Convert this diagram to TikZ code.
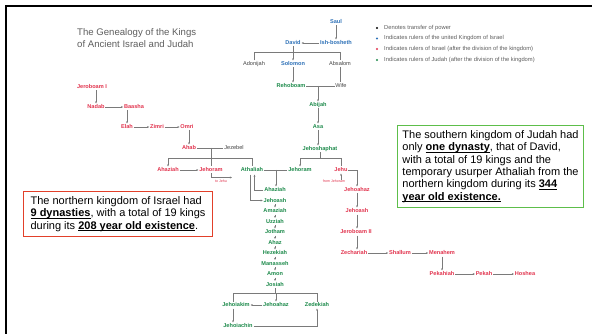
\documentclass[tikz,border=0pt]{standalone}
\usepackage{fontspec}
\setmainfont{Liberation Sans}
\usetikzlibrary{arrows.meta}
\definecolor{ired}{HTML}{E2354F}
\definecolor{jgreen}{HTML}{1E8B4C}
\definecolor{ublue}{HTML}{2F72B8}
\definecolor{lgray}{HTML}{7A7A7A}
\definecolor{tgray}{HTML}{5E5E5E}
\definecolor{ngray}{HTML}{444444}
\definecolor{rbox}{HTML}{E2402A}
\definecolor{gbox}{HTML}{5DBE4A}
\newcommand\myul[1]{\setbox0\hbox{#1}\rlap{\rule[-1.4pt]{\wd0}{0.65pt}}\box0}
\begin{document}
\begin{tikzpicture}[x=1pt,y=-1pt,
  nm/.style={font=\fontsize{5.6}{6}\selectfont\bfseries, inner sep=0.7pt, text height=4.1pt, text depth=1.1pt},
  isr/.style={nm, text=ired},
  jud/.style={nm, text=jgreen},
  uni/.style={nm, text=ublue},
  oth/.style={nm, text=ngray, font=\fontsize{5.6}{6}\selectfont},
  tiny/.style={font=\fontsize{3.6}{4}\selectfont, text=ired, inner sep=0.3pt},
  ln/.style={draw=lgray, line width=0.45pt},
  ar/.style={ln, -{Stealth[length=2.2pt,width=1.9pt]}},
  legt/.style={font=\fontsize{5.8}{6}\selectfont, text=tgray, anchor=west, inner sep=0pt},
  dotb/.style={circle, inner sep=0pt, minimum size=2.2pt},
  titl/.style={font=\fontsize{9.6}{12}\selectfont, text=tgray, anchor=base west, inner sep=0pt},
  infobox/.style={line width=1.1pt, align=left, font=\fontsize{11}{12.4}\selectfont, anchor=north west, inner sep=0pt}
]
\useasboundingbox (0,0) rectangle (592,334);
\fill[white] (0,0) rectangle (592,334);
\draw[line width=2.2pt] (6,334) -- (6,5.8) -- (592,5.8);

% title
\node[titl] (t1) at (77,36) {The Genealogy of the Kings};
\node[titl] (t2) at (77,48) {of Ancient Israel and Judah};

% legend
\node[dotb, fill=black] (b1) at (377,28) {};
\node[dotb, fill=ublue] (b2) at (377,38.5) {};
\node[dotb, fill=ired] (b3) at (377,49) {};
\node[dotb, fill=jgreen] (b4) at (377,60) {};
\node[legt] (l1) at (384,28) {Denotes transfer of power};
\node[legt] (l2) at (384,38.5) {Indicates rulers of the united Kingdom of Israel};
\node[legt] (l3) at (384,49) {Indicates rulers of Israel (after the division of the kingdom)};
\node[legt] (l4) at (384,60) {Indicates rulers of Judah (after the division of the kingdom)};

% united kingdom
\node[uni] (Saul) at (336,22) {Saul};
\node[uni] (Ishb) at (336,43) {Ish-bosheth};
\node[uni] (David) at (293,43) {David};
\node[oth] (Adonijah) at (254,64) {Adonijah};
\node[uni] (Solomon) at (293,64) {Solomon};
\node[oth] (Absalom) at (340,64) {Absalom};
\node[jud] (Rehoboam) at (291,86) {Rehoboam};
\node[oth] (Wife) at (341,86) {Wife};

\draw[ar] (Saul) -- (Ishb);
\draw[ar] (Ishb) -- (David);
\coordinate (dbar) at (293,52.5);
\draw[ln] (David.south) -- (dbar);
\draw[ln] (Adonijah.north) |- (dbar) -| (Absalom.north);
\draw[ar] (dbar) -- (Solomon.north);
\draw[ar] (Solomon.south) -- (Solomon.south |- Rehoboam.north);
\draw[ln] (Rehoboam.east) -- (Wife.west);
\draw[ln] (Absalom.south) -- (Absalom.south |- Wife.north);

% Judah
\node[jud] (Abijah) at (318,105) {Abijah};
\node[jud] (Asa) at (318,127) {Asa};
\node[jud] (Jehoshaphat) at (320,149) {Jehoshaphat};
\node[jud] (JehoramJ) at (300,170) {Jehoram};
\node[isr] (Jehu) at (341,170) {Jehu};
\node[jud] (Athaliah) at (252,170) {Athaliah};
\coordinate (rwm) at (318,86);
\draw[ar] (rwm) -- (Abijah.north);
\draw[ar] (Abijah) -- (Asa);
\draw[ar] (Asa.south) -- (Asa.south |- Jehoshaphat.north);
\coordinate (jsbar) at (320,158);
\draw[ln] (Jehoshaphat.south) -- (jsbar);
\draw[ar] (jsbar) -| (JehoramJ.north);
\draw[ln] (jsbar) -| (Jehu.north);

\node[jud] (AhaziahJ) at (275,190) {Ahaziah};
\node[jud] (Jehoash) at (275,200.5) {Jehoash};
\node[jud] (Amaziah) at (275,211) {Amaziah};
\node[jud] (Uzziah) at (275,221.5) {Uzziah};
\node[jud] (Jotham) at (275,232) {Jotham};
\node[jud] (Ahaz) at (275,242.5) {Ahaz};
\node[jud] (Hezekiah) at (275,253) {Hezekiah};
\node[jud] (Manasseh) at (275,263.5) {Manasseh};
\node[jud] (Amon) at (275,274) {Amon};
\node[jud] (Josiah) at (275,284.5) {Josiah};
\draw[ln] (Athaliah.east) -- (JehoramJ.west);
\coordinate (atm) at (276,170);
\draw[ar] (atm) -- (AhaziahJ.north -| atm);
\coordinate (athA) at (254.5,174.6);
\coordinate (athB) at (250.5,174.6);
\draw[ar] (AhaziahJ.west) -| (athA);
\draw[ar] (athB) |- (Jehoash.west);
\draw[ar] (Jehoash) -- (Amaziah);
\draw[ar] (Amaziah) -- (Uzziah);
\draw[ar] (Uzziah) -- (Jotham);
\draw[ar] (Jotham) -- (Ahaz);
\draw[ar] (Ahaz) -- (Hezekiah);
\draw[ar] (Hezekiah) -- (Manasseh);
\draw[ar] (Manasseh) -- (Amon);
\draw[ar] (Amon) -- (Josiah);

\node[jud] (Jehoiakim) at (236,305) {Jehoiakim};
\node[jud] (JehoahazJ) at (276,305) {Jehoahaz};
\node[jud] (Zedekiah) at (317,305) {Zedekiah};
\node[jud] (Jehoiachin) at (238,326) {Jehoiachin};
\coordinate (jbar) at (276,293.5);
\draw[ln] (Josiah.south) -- (jbar -| Josiah.south);
\draw[ln] (Jehoiakim.north -| 233,0) |- (jbar) -| (Zedekiah.north);
\draw[ar] (jbar) -- (JehoahazJ.north);
\draw[ar] (JehoahazJ.west) -- (Jehoiakim.east);
\draw[ar] (Jehoiakim.south -| 233,0) -- (Jehoiachin.north -| 233,0);
\draw[ar] (Jehoiachin.east) -| (Zedekiah.south);

% Israel
\node[isr] (JeroboamI) at (92,87) {Jeroboam I};
\node[isr] (Nadab) at (96,107) {Nadab};
\node[isr] (Baasha) at (134,107) {Baasha};
\node[isr] (Elah) at (127,127) {Elah};
\node[isr] (Zimri) at (157,127) {Zimri};
\node[isr] (Omri) at (187,127) {Omri};
\node[isr] (Ahab) at (189,148) {Ahab};
\node[oth] (Jezebel) at (234,148) {Jezebel};
\node[isr] (AhaziahI) at (168,170) {Ahaziah};
\node[isr] (JehoramI) at (211,170) {Jehoram};
\draw[ar] (JeroboamI.south -| Nadab) -- (Nadab.north);
\draw[ar] (Nadab) -- (Baasha);
\draw[ar] (Baasha.south -| Elah) -- (Elah.north);
\draw[ar] (Elah) -- (Zimri);
\draw[ar] (Zimri) -- (Omri);
\draw[ar] (Omri.south -| Ahab) -- (Ahab.north);
\draw[ln] (Ahab.east) -- (Jezebel.west);
\coordinate (ajm) at (211,148);
\coordinate (ajbar) at (211,158);
\draw[ln] (ajm) -- (ajbar);
\draw[ar] (ajbar) -| (AhaziahI.north);
\draw[ln] (ajbar) -| (Athaliah.north);
\draw[ln] (ajbar) -- (JehoramI.north);
\draw[ar] (AhaziahI) -- (JehoramI);
\node[tiny] (toJehu) at (221,181.5) {to Jehu};
\coordinate (tj) at (232,177.5);
\draw[ar] (JehoramI.south) |- (tj);

\node[tiny] (fromJ) at (334,181.5) {from Jehoram};
\draw[ar] (fromJ.north -| Jehu) -- (Jehu.south);

\node[isr] (JehoahazI) at (357,190) {Jehoahaz};
\node[isr] (JehoashI) at (357,211) {Jehoash};
\node[isr] (JeroboamII) at (356,232) {Jeroboam II};
\node[isr] (Zechariah) at (354,253) {Zechariah};
\node[isr] (Shallum) at (400,253) {Shallum};
\node[isr] (Menahem) at (442,253) {Menahem};
\node[isr] (Pekahiah) at (442,274) {Pekahiah};
\node[isr] (Pekah) at (484,274) {Pekah};
\node[isr] (Hoshea) at (525,274) {Hoshea};
\draw[ar] (Jehu.east) -| (JehoahazI.north);
\draw[ar] (JehoahazI) -- (JehoashI);
\draw[ar] (JehoashI.south) -- (JehoashI.south |- JeroboamII.north);
\draw[ar] (JeroboamII.south -| JehoashI) -- (Zechariah.north -| JehoashI);
\draw[ar] (Zechariah) -- (Shallum);
\draw[ar] (Shallum) -- (Menahem);
\draw[ar] (Menahem) -- (Pekahiah);
\draw[ar] (Pekahiah) -- (Pekah);
\draw[ar] (Pekah) -- (Hoshea);

% info boxes
\node[infobox, draw=rbox, minimum width=189pt, minimum height=45pt] (ibox) at (23,191)
 {The northern kingdom of Israel had\\
  \myul{\textbf{9 dynasties}}, with a total of 19 kings\\
  during its \myul{\textbf{208 year old existence}}.};
\node[infobox, draw=gbox, minimum width=186pt, minimum height=82pt] (jbox) at (397,125)
 {The southern kingdom of Judah had\\
  only \myul{\textbf{one dynasty}}, that of David,\\
  with a total of 19 kings and the\\
  temporary usurper Athaliah from the\\
  northern kingdom during its \myul{\textbf{344}}\\
  \myul{\textbf{year old existence.}}};
\end{tikzpicture}
\end{document}
